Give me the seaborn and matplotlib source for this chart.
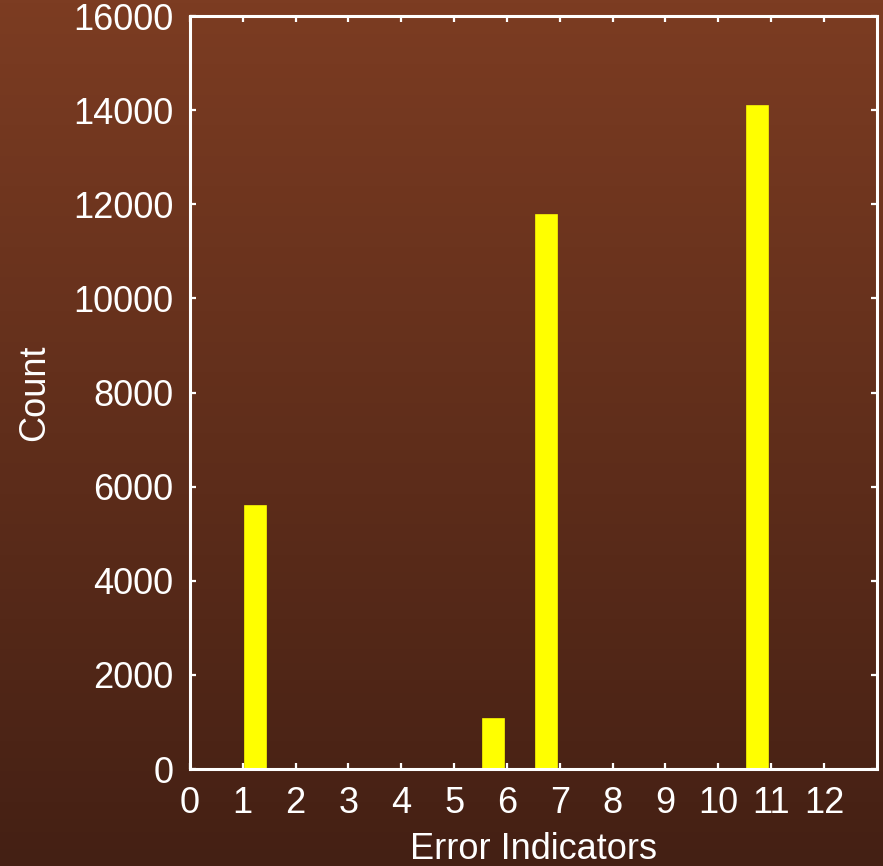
import numpy as np
import seaborn as sns
import matplotlib.pyplot as plt

# histogram bin centres (20 bins over 1..11) and counts
bin_centers = [1.25, 1.75, 2.25, 2.75, 3.25, 3.75, 4.25, 4.75, 5.25, 5.75,
               6.25, 6.75, 7.25, 7.75, 8.25, 8.75, 9.25, 9.75, 10.25, 10.75]
counts = [5580, 0, 0, 0, 0, 0, 0, 0, 0, 1060,
          0, 11770, 0, 0, 0, 0, 0, 0, 0, 14080]
x_ticks = list(range(0, 13))
y_ticks = [0, 2000, 4000, 6000, 8000, 10000, 12000, 14000, 16000]

sns.set_style("ticks")
plt.rcParams['font.family'] = ['Liberation Sans', 'DejaVu Sans']

fig = plt.figure(figsize=(8.83, 8.66), dpi=100)

# brown vertical gradient background
bg = fig.add_axes([0, 0, 1, 1], zorder=0)
top_col = np.array([124, 60, 34]) / 255
bot_col = np.array([68, 32, 20]) / 255
t = np.linspace(0, 1, 256)[:, None]
grad = top_col * (1 - t[..., None]) + bot_col * t[..., None]
bg.imshow(np.repeat(grad, 2, axis=1), aspect='auto', extent=[0, 1, 0, 1])
bg.axis('off')

ax = fig.add_axes([0.215, 0.112, 0.778, 0.8695], zorder=1)
ax.patch.set_alpha(0)

sns.barplot(x=bin_centers, y=counts, native_scale=True, color='yellow',
            saturation=1, width=0.8, edgecolor='yellow', linewidth=1.2, ax=ax)
for p in ax.patches:
    p.set_clip_on(False)

ax.set_xlim(0, 13)
ax.set_ylim(0, 16000)
ax.set_xticks(x_ticks)
ax.set_xticklabels([str(v) for v in x_ticks])
ax.set_yticks(y_ticks)
ax.set_yticklabels([str(v) for v in y_ticks])

for s in ax.spines.values():
    s.set_visible(True)
    s.set_color('white')
    s.set_linewidth(2.2)
    s.set_zorder(5)

ax.tick_params(direction='in', length=4, width=1.6, colors='white',
               labelsize=26, top=True, right=True, pad=12)
ax.set_xlabel('Error Indicators', fontsize=26, color='white', labelpad=8)
ax.set_ylabel('Count', fontsize=26, color='white', labelpad=15)

fig.savefig('out.png', dpi=100)
